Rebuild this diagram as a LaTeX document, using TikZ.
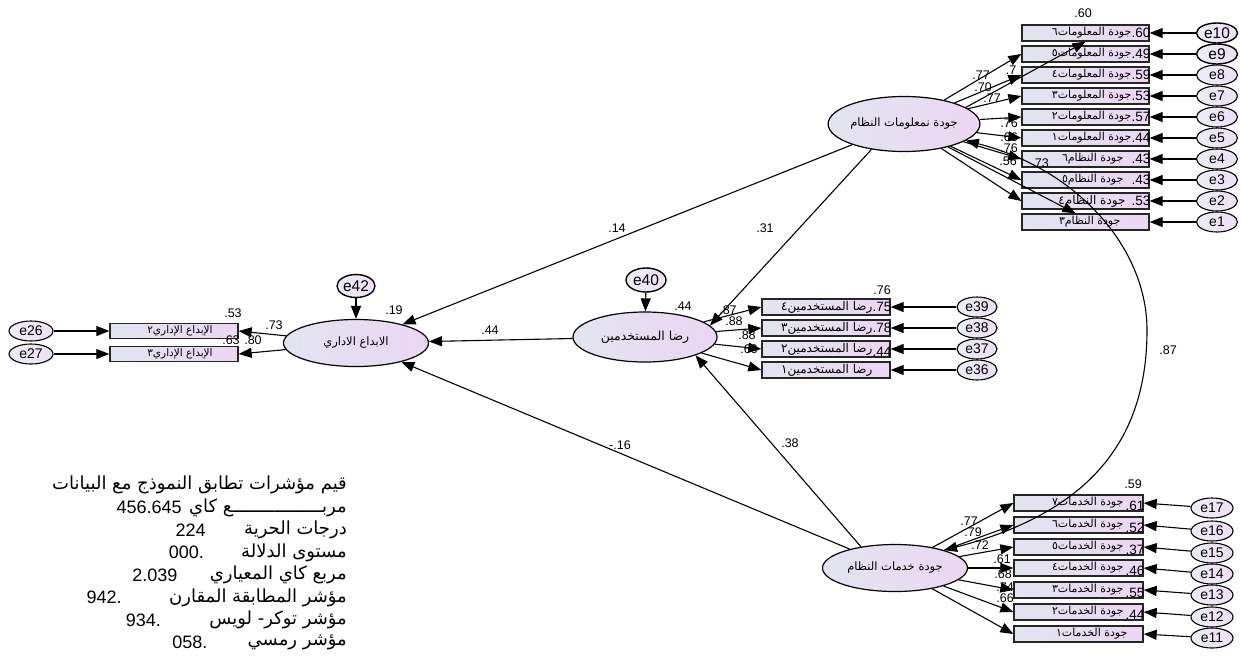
\documentclass[tikz,border=0pt]{standalone}
\usepackage{fontspec}
\setmainfont{Liberation Sans}
\newfontfamily\ar[Script=Arabic]{DejaVu Sans}
\TeXXeTstate=1
\usetikzlibrary{arrows.meta,shapes.geometric}
\definecolor{gA}{RGB}{226,229,240}
\definecolor{gB}{RGB}{236,214,244}
\newcommand\AR[1]{{\ar\beginR #1\endR}}
\begin{document}
\begin{tikzpicture}[x=1pt,y=-1pt,
  lat/.style={ellipse, draw, line width=1.2pt, left color=gA, right color=gB,
    minimum width=145pt, minimum height=48pt, inner sep=0pt, font=\fontsize{11.5}{12}\selectfont},
  obs/.style={rectangle, draw=black!85, line width=1.3pt, left color=gA, right color=gB,
    minimum width=127pt, minimum height=16pt, inner sep=0pt},
  err/.style={ellipse, draw, line width=1.1pt, left color=gA!70!white, right color=gB!80!white,
    minimum width=41pt, minimum height=20pt, inner sep=0pt, font=\fontsize{14}{14}\selectfont},
  errb/.style={err, line width=1.4pt, font=\fontsize{15.5}{15}\selectfont},
  arr/.style={line width=1.1pt, -{Triangle[length=13pt,width=10pt]}},
  num/.style={font=\fontsize{12.5}{13}\selectfont, inner sep=0pt},
  bnum/.style={font=\fontsize{13.5}{13}\selectfont, inner sep=0pt, anchor=east},
  btxt/.style={font=\fontsize{11}{11}\selectfont, inner sep=0pt, anchor=east},
  fit/.style={font=\fontsize{18}{19}\selectfont, inner sep=0pt, anchor=east},
  fitn/.style={font=\fontsize{18}{18}\selectfont, inner sep=0pt, anchor=east}]
\useasboundingbox[fill=white] (0,0) rectangle (1241,656);

% latent variables
\node[lat, minimum height=55pt] (info) at (904,124) {\AR{جودة نمعلومات النظام}};
\node[lat, minimum width=144pt, minimum height=50pt, font=\fontsize{12.5}{13}\selectfont] (users) at (645,337) {\AR{رضا المستخدمين}};
\node[lat, minimum height=47pt] (admin) at (356,343) {\AR{الابداع الاداري}};
\node[lat, minimum height=47pt] (serv) at (895,568) {\AR{جودة خدمات النظام}};

\node[errb, minimum width=38pt, minimum height=23pt] (e42) at (356,286) {e42};
\node[errb, minimum width=40pt, minimum height=24pt] (e40) at (646,280) {e40};

% info quality indicators
\node[obs] (i1) at (1085.5,33) {};
\node[obs] (i2) at (1085.5,54) {};
\node[obs] (i3) at (1085.5,75) {};
\node[obs] (i4) at (1085.5,96) {};
\node[obs] (i5) at (1085.5,117) {};
\node[obs] (i6) at (1085.5,138) {};
\node[obs] (i7) at (1085.5,159) {};
\node[obs] (i8) at (1085.5,180) {};
\node[obs] (i9) at (1085.5,201) {};
\node[obs] (i10) at (1085.5,222) {};
\node[btxt] at ([xshift=-18pt]i1.east) {\AR{جودة المعلومات٦}};
\node[btxt] at ([xshift=-18pt]i2.east) {\AR{جودة المعلومات٥}};
\node[btxt] at ([xshift=-18pt]i3.east) {\AR{جودة المعلومات٤}};
\node[btxt] at ([xshift=-18pt]i4.east) {\AR{جودة المعلومات٣}};
\node[btxt] at ([xshift=-18pt]i5.east) {\AR{جودة المعلومات٢}};
\node[btxt] at ([xshift=-18pt]i6.east) {\AR{جودة المعلومات١}};
\node[btxt] at ([xshift=-26pt]i7.east) {\AR{جودة  النظام٦}};
\node[btxt] at ([xshift=-26pt]i8.east) {\AR{جودة  النظام٥}};
\node[btxt, font=\fontsize{12}{12}\selectfont] at ([xshift=-24pt]i9.east) {\AR{جودة  النظام٤}};
\node[btxt] at ([xshift=-29pt]i10.east) {\AR{جودة  النظام٣}};
\node[bnum] at ([xshift=1pt]i1.east) {.60};
\node[bnum] at ([xshift=1pt]i2.east) {.49};
\node[bnum] at ([xshift=1pt]i3.east) {.59};
\node[bnum] at ([xshift=1pt]i4.east) {.53};
\node[bnum] at ([xshift=1pt]i5.east) {.57};
\node[bnum] at ([xshift=1pt]i6.east) {.44};
\node[bnum] at ([xshift=1pt]i7.east) {.43};
\node[bnum] at ([xshift=1pt]i8.east) {.43};
\node[bnum] at ([xshift=1pt]i9.east) {.53};
\node[num] at (1083,13) {.60};

\node[errb] (e10) at (1217,33) {e10};
\node[errb] (e9) at (1217,54) {e9};
\node[err] (e8) at (1217,75) {e8};
\node[err] (e7) at (1217,96) {e7};
\node[err] (e6) at (1217,117) {e6};
\node[err] (e5) at (1217,138) {e5};
\node[err] (e4) at (1217,159) {e4};
\node[err] (e3) at (1217,180) {e3};
\node[err] (e2) at (1217,201) {e2};
\node[err] (e1) at (1217,222) {e1};
\foreach \a/\b in {e10/i1,e9/i2,e8/i3,e7/i4,e6/i5,e5/i6,e4/i7,e3/i8,e2/i9,e1/i10}
  \draw[arr] (\a) -- (\b.east);

% users satisfaction indicators
\node[obs, minimum width=128pt] (u1) at (826,307) {};
\node[obs, minimum width=128pt] (u2) at (826,328) {};
\node[obs, minimum width=128pt] (u3) at (826,349) {};
\node[obs, minimum width=128pt] (u4) at (826,370) {};
\node[btxt, font=\fontsize{12}{12}\selectfont] at ([xshift=-18pt]u1.east) {\AR{رضا المستخدمين٤}};
\node[btxt, font=\fontsize{12}{12}\selectfont] at ([xshift=-18pt]u2.east) {\AR{رضا المستخدمين٣}};
\node[btxt, font=\fontsize{12}{12}\selectfont] at ([xshift=-18pt]u3.east) {\AR{رضا المستخدمين٢}};
\node[btxt, font=\fontsize{12}{12}\selectfont] at ([xshift=-18pt]u4.east) {\AR{رضا المستخدمين١}};
\node[bnum] at ([xshift=1pt]u1.east) {.75};
\node[bnum] at ([xshift=1pt]u2.east) {.78};
\node[bnum] at ([xshift=1pt,yshift=-3pt]u3.east) {.44};
\node[num] at (882,290) {.76};
\node[err, minimum width=40pt] (e39) at (977,307) {e39};
\node[err, minimum width=40pt] (e38) at (977,328) {e38};
\node[err, minimum width=40pt] (e37) at (977,349) {e37};
\node[err, minimum width=40pt] (e36) at (977,370) {e36};
\foreach \a/\b in {e39/u1,e38/u2,e37/u3,e36/u4}
  \draw[arr] (\a) -- (\b.east);

% admin creativity indicators
\node[obs, minimum width=128pt, minimum height=15pt] (a1) at (174,331) {};
\node[obs, minimum width=128pt, minimum height=15pt] (a2) at (174,354) {};
\node[btxt, anchor=center, font=\fontsize{10.5}{10}\selectfont] at (180,331) {\AR{الإبداع الإداري٢}};
\node[btxt, anchor=center, font=\fontsize{10.5}{10}\selectfont] at (180,354) {\AR{الإبداع الإداري٣}};
\node[err, minimum width=44pt] (e26) at (31,331) {e26};
\node[err, minimum width=44pt] (e27) at (31,354) {e27};
\draw[arr] (e26) -- (a1.west);
\draw[arr] (e27) -- (a2.west);

% services quality indicators
\node[obs, minimum width=129pt] (s1) at (1078.5,503) {};
\node[obs, minimum width=129pt] (s2) at (1078.5,525) {};
\node[obs, minimum width=129pt] (s3) at (1078.5,547) {};
\node[obs, minimum width=129pt] (s4) at (1078.5,568) {};
\node[obs, minimum width=129pt] (s5) at (1078.5,590) {};
\node[obs, minimum width=129pt] (s6) at (1078.5,612) {};
\node[obs, minimum width=129pt] (s7) at (1078.5,634) {};
\node[btxt] at ([xshift=-20pt]s1.east) {\AR{جودة  الخدمات٧}};
\node[btxt] at ([xshift=-20pt]s2.east) {\AR{جودة  الخدمات٦}};
\node[btxt] at ([xshift=-20pt]s3.east) {\AR{جودة  الخدمات٥}};
\node[btxt] at ([xshift=-20pt]s4.east) {\AR{جودة  الخدمات٤}};
\node[btxt] at ([xshift=-20pt]s5.east) {\AR{جودة  الخدمات٣}};
\node[btxt] at ([xshift=-20pt]s6.east) {\AR{جودة  الخدمات٢}};
\node[btxt] at ([xshift=-16pt]s7.east) {\AR{جودة  الخدمات١}};
\node[bnum] at ([xshift=1pt,yshift=-3pt]s1.east) {.61};
\node[bnum] at ([xshift=1pt,yshift=-3pt]s2.east) {.52};
\node[bnum] at ([xshift=1pt,yshift=-3pt]s3.east) {.37};
\node[bnum] at ([xshift=1pt,yshift=-3pt]s4.east) {.46};
\node[bnum] at ([xshift=1pt,yshift=-3pt]s5.east) {.55};
\node[bnum] at ([xshift=1pt,yshift=-3pt]s6.east) {.44};
\node[num] at (1133,484) {.59};
\node[err, minimum width=42pt] (e17) at (1212,508) {e17};
\node[err, minimum width=42pt] (e16) at (1212,531) {e16};
\node[err, minimum width=42pt] (e15) at (1212,553) {e15};
\node[err, minimum width=42pt] (e14) at (1212,574) {e14};
\node[err, minimum width=42pt] (e13) at (1212,595) {e13};
\node[err, minimum width=42pt] (e12) at (1212,617) {e12};
\node[err, minimum width=42pt] (e11) at (1212,638) {e11};
\foreach \a/\b in {e17/s1,e16/s2,e15/s3,e14/s4,e13/s5,e12/s6,e11/s7}
  \draw[arr] (\a) -- (\b.east);

% loadings
\draw[arr] (info.15) -- (i1.south);
\foreach \b in {i2,i3,i4,i5,i6,i7,i8,i9} \draw[arr] (info) -- (\b.west);
\draw[arr] (info) -- ([xshift=-10pt]i10.north);
\foreach \b in {u1,u2,u3,u4} \draw[arr] (users) -- (\b.west);
\foreach \b in {a1,a2} \draw[arr] (admin) -- (\b.east);
\foreach \b in {s1,s2,s3,s4,s5,s6,s7} \draw[arr] (serv) -- (\b.west);

% structural paths
\draw[arr] (e42) -- (admin);
\draw[arr] (e40) -- (users);
\draw[arr] (info) -- (admin);
\draw[arr] (info.218) -- (users.10);
\draw[arr] (users) -- (admin);
\draw[arr] (serv) -- (admin);
\draw[arr] (serv.148) -- (users.-20);
\draw[line width=1.1pt, {Triangle[length=13pt,width=10pt]}-{Triangle[length=13pt,width=10pt]}]
  (info.-15) .. controls (1080,170) and (1147,250) .. (1147,330)
  .. controls (1147,430) and (1100,510) .. (serv.20);

% numeric labels
\node[num] at (617,228) {.14};
\node[num] at (765,228) {.31};
\node[num] at (490,330) {.44};
\node[num] at (620,445) {-.16};
\node[num] at (790,443) {.38};
\node[num] at (1168,350) {.87};
\node[num] at (394,310) {.19};
\node[num] at (683,306) {.44};
\node[num] at (233,313) {.53};
\node[num] at (231,340) {.63};
\node[num] at (253,340) {.80};
\node[num] at (274,325) {.73};
\node[num] at (728,310) {.87};
\node[num] at (734,321) {.88};
\node[num] at (747,335) {.88};
\node[num] at (749,349) {.66};
\node[num] at (981,75) {.77};
\node[num] at (983,87) {.70};
\node[num] at (992,98) {.77};
\node[num] at (1011,70) {.7};
\node[num] at (1009,123) {.76};
\node[num] at (1009,137) {.66};
\node[num] at (1009,148) {.76};
\node[num] at (1008,161) {.56};
\node[num] at (1040,163) {.73};
\node[num] at (969,521) {.77};
\node[num] at (973,532) {.79};
\node[num] at (980,545) {.72};
\node[num] at (1002,559) {.61};
\node[num] at (1003,574) {.68};
\node[num] at (1005,587) {.74};
\node[num] at (1005,598) {.66};

% fit indices
\node[fit] (f1) at (347,485) {\AR{قيم مؤشرات تطابق النموذج مع البيانات}};
\node[fit] (f2) at (347,507.5) {\AR{مربـــــــــــــــــع كاي}};
\node[fit] (f3) at (347,530) {\AR{درجات الحرية}};
\node[fit] (f4) at (347,552.5) {\AR{مستوى الدلالة}};
\node[fit] (f5) at (347,575) {\AR{مربع كاي المعياري}};
\node[fit] (f6) at (347,597.5) {\AR{مؤشر المطابقة المقارن}};
\node[fit] (f7) at (347,620) {\AR{مؤشر توكر- لويس}};
\node[fit] (f8) at (347,642.5) {\AR{مؤشر رمسي}};
\node[fitn] at ([xshift=-7pt]f2.west) {456.645};
\node[fitn] at ([xshift=-38pt]f3.west) {224};
\node[fitn] at ([xshift=-37pt]f4.west) {000.};
\node[fitn] at ([xshift=-32pt]f5.west) {2.039};
\node[fitn] at ([xshift=-47pt]f6.west) {942.};
\node[fitn] at ([xshift=-48pt]f7.west) {934.};
\node[fitn] at ([xshift=-40pt]f8.west) {058.};
\end{tikzpicture}
\end{document}
